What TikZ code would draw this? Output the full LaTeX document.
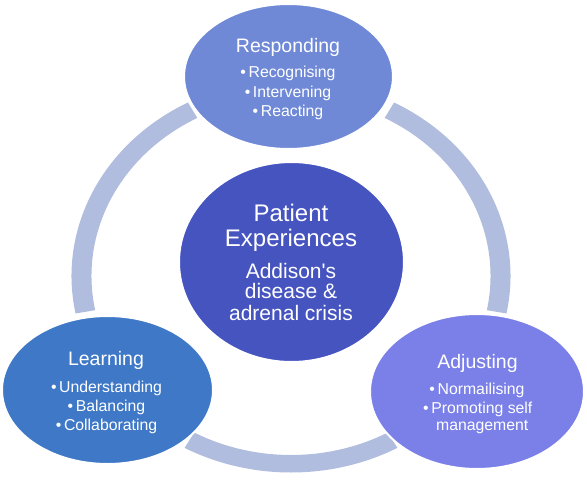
\documentclass[tikz,border=0pt]{standalone}
\usepackage{fontspec}
\setmainfont{Liberation Sans}[Ligatures=TeXOff]
\usetikzlibrary{shapes.geometric,calc}
\definecolor{ringc}{HTML}{B0BDDE}
\definecolor{respc}{HTML}{6F89D7}
\definecolor{centc}{HTML}{4654C0}
\definecolor{learnc}{HTML}{3E78C6}
\definecolor{adjc}{HTML}{7A80E8}
\begin{document}
\begin{tikzpicture}[x=1pt,y=1pt,
  blob/.style={ellipse, draw=white, line width=2pt, inner sep=0pt, outer sep=0pt},
  ttl/.style={anchor=base, text=white, inner sep=0pt, font=\fontsize{19.5}{22}\selectfont},
  itm/.style={anchor=base, text=white, inner sep=0pt, font=\fontsize{15.8}{18}\selectfont},
  bigt/.style={anchor=base, text=white, inner sep=0pt, font=\fontsize{24}{26}\selectfont},
  subt/.style={anchor=base, text=white, inner sep=0pt, font=\fontsize{21}{23}\selectfont},
  ringseg/.style={fill=ringc}]
\useasboundingbox (0,0) rectangle (587,-485);
\coordinate (C) at (291,-276);
% ring segments (block arcs)
\fill[ringseg] ($(C)+(118:219.5pt and 196.5pt)$) arc[start angle=118, end angle=191, x radius=219.5pt, y radius=196.5pt]
  -- ($(C)+(191:199.5pt and 179pt)$) arc[start angle=191, end angle=118, x radius=199.5pt, y radius=179pt] -- cycle;
\fill[ringseg] ($(C)+(-11:219.5pt and 196.5pt)$) arc[start angle=-11, end angle=62, x radius=219.5pt, y radius=196.5pt]
  -- ($(C)+(62:199.5pt and 179pt)$) arc[start angle=62, end angle=-11, x radius=199.5pt, y radius=179pt] -- cycle;
\fill[ringseg] ($(C)+(241:219.5pt and 196.5pt)$) arc[start angle=241, end angle=299, x radius=219.5pt, y radius=196.5pt]
  -- ($(C)+(299:199.5pt and 179pt)$) arc[start angle=299, end angle=241, x radius=199.5pt, y radius=179pt] -- cycle;
% ellipses
\node[blob, fill=respc, minimum width=209pt, minimum height=145pt] (resp) at (288.5,-76.5) {};
\node[blob, fill=centc, minimum width=225pt, minimum height=200pt] (cent) at (291.5,-262) {};
\node[blob, fill=learnc, minimum width=211pt, minimum height=148pt] (learn) at (107.5,-390) {};
\node[blob, fill=adjc, minimum width=214pt, minimum height=155pt] (adj) at (477,-391.5) {};
% Responding
\node[ttl] (respT) at (288,-52.3) {Responding};
\node[itm] (resp1) at (288,-77.5) {\textbullet\,Recognising};
\node[itm] (resp2) at (288,-97) {\textbullet\,Intervening};
\node[itm] (resp3) at (288,-116.5) {\textbullet\,Reacting};
% Center
\node[bigt] (centT1) at (291,-221) {Patient};
\node[bigt] (centT2) at (291,-246) {Experiences};
\node[subt] (cent1) at (291,-278.3) {Addison's};
\node[subt] (cent2) at (291,-298.5) {disease \&};
\node[subt] (cent3) at (291,-320) {adrenal crisis};
% Learning
\node[ttl] (learnT) at (106,-365) {Learning};
\node[itm] (learn1) at (106.5,-392.7) {\textbullet\,Understanding};
\node[itm] (learn2) at (106.5,-411.7) {\textbullet\,Balancing};
\node[itm] (learn3) at (106.5,-430) {\textbullet\,Collaborating};
% Adjusting
\node[ttl] (adjT) at (477.5,-368.3) {Adjusting};
\node[itm] (adj1) at (477,-394.3) {\textbullet\,Normailising};
\node[itm] (adj2) at (477.8,-413.3) {\textbullet\,Promoting self};
\node[itm] (adj3) at (482.2,-430) {management};
\end{tikzpicture}
\end{document}
